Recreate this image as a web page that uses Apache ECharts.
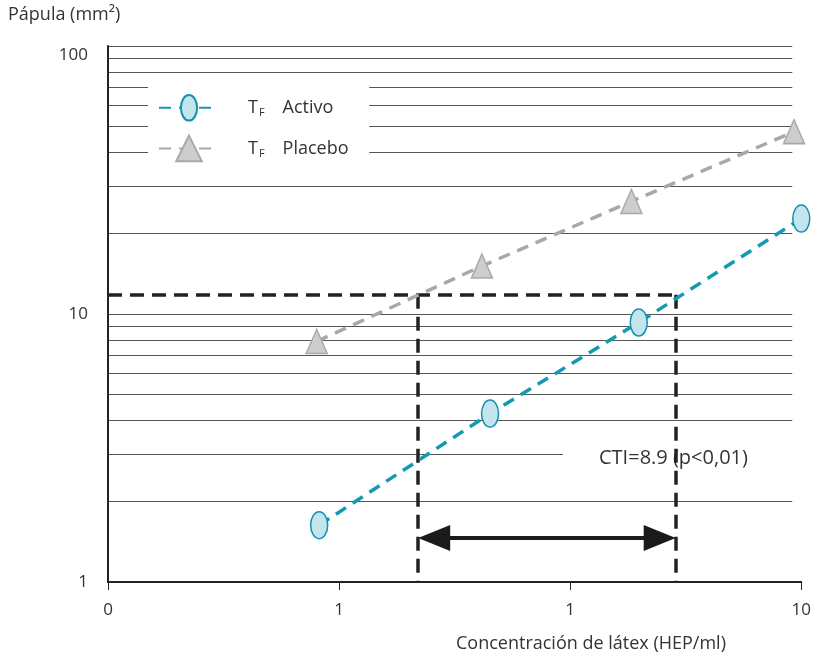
<!DOCTYPE html>
<html>
<head>
<meta charset="utf-8">
<style>
html, body { margin: 0; padding: 0; background: #fff; }
#main { width: 814px; height: 660px; }
</style>
<script src="https://cdn.jsdelivr.net/npm/echarts@6/dist/echarts.min.js"></script>
</head>
<body>
<div id="main"></div>
<script>
// tick labels as printed on the figure
var xTickValues = [0.01, 0.1, 1, 10];
var xTickLabels = ['0', '1', '1', '10'];
var yTickValues = [1, 10, 100];
var yTickLabels = ['1', '10', '100'];

// T_F Activo
var activoX = [0.082, 0.45, 1.98, 10];
var activoY = [1.63, 4.25, 9.3, 22.7];
// T_F Placebo
var placeboX = [0.08, 0.415, 1.84, 9.3];
var placeboY = [7.9, 15.1, 26.3, 47.9];

// horizontal log grid lines
var gridValues = [2, 3, 4, 5, 6, 7, 8, 9, 10, 20, 30, 40, 50, 60, 70, 80, 90, 100];

// cut-off construction
var cutY = 11.8;
var cutX = [0.22, 2.86];
var arrowY = 1.46;

var myChart = echarts.init(document.getElementById('main'));

function idxOf(list, v) {
	for (var i = 0; i < list.length; i++) {
		if (Math.abs(Math.log10(list[i]) - Math.log10(v)) < 1e-6) return i;
	}
	return -1;
}

// grid line segments (gap behind the legend, short line at 3)
var gridSegs = [];
gridValues.forEach(function (v) {
	if (v >= 40 && v <= 70) {
		gridSegs.push([{ coord: [0.0101, v] }, { coord: [0.0149, v] }]);
		gridSegs.push([{ coord: [0.135, v] }, { coord: [9.14, v] }]);
	} else if (v === 3) {
		gridSegs.push([{ coord: [0.0101, v] }, { coord: [0.93, v] }]);
	} else {
		gridSegs.push([{ coord: [0.0101, v] }, { coord: [9.14, v] }]);
	}
});

// arrow heads are centred on the end points: pull them in by half a head
var headShift = Math.pow(10, 16 / 232);

// upright ellipse inside a square box (the two moves fix the box)
var ellipse = 'path://M0,0 M100,100 M50,0 C67.4,0 81.5,22.4 81.5,50 C81.5,77.6 67.4,100 50,100 C32.6,100 18.5,77.6 18.5,50 C18.5,22.4 32.6,0 50,0 Z';
var font = '"Open Sans", "Noto Sans", sans-serif';

var option = {
	animation: false,
	textStyle: { fontFamily: font },
	grid: { left: 108, right: 10, top: 46, bottom: 78 },
	legend: {
		orient: 'vertical',
		left: 153,
		top: 89,
		itemWidth: 60,
		itemHeight: 32,
		itemGap: 13,
		data: ['Activo', 'Placebo'],
		formatter: function (name) {
			return '{t|T}{s|F}{g|}' + name;
		},
		textStyle: {
			color: '#333',
			fontSize: 18,
			padding: [0, 0, 0, 24],
			rich: {
				t: { fontSize: 18, color: '#333' },
				s: { fontSize: 11, color: '#333', verticalAlign: 'bottom', padding: [11, 0, 0, 1] },
				g: { width: 18 }
			}
		}
	},
	xAxis: {
		type: 'log',
		logBase: 10,
		min: 0.01,
		max: 10,
		axisLine: { lineStyle: { color: '#222', width: 2 } },
		axisTick: { show: true, length: 8, lineStyle: { color: '#222', width: 1 } },
		axisLabel: {
			color: '#333',
			fontSize: 17,
			margin: 20,
			formatter: function (v) {
				var i = idxOf(xTickValues, v);
				return i < 0 ? '' : xTickLabels[i];
			}
		},
		splitLine: { show: false }
	},
	yAxis: {
		type: 'log',
		logBase: 10,
		min: 1,
		max: 100,
		axisLine: { show: true, lineStyle: { color: '#222', width: 2 } },
		axisTick: { show: false },
		axisLabel: {
			color: '#333',
			fontSize: 17,
			margin: 20,
			formatter: function (v) {
				var i = idxOf(yTickValues, v);
				if (i < 0) return '';
				return i === yTickValues.length - 1 ? '{top|' + yTickLabels[i] + '}' : yTickLabels[i];
			},
			rich: {
				top: { fontSize: 17, color: '#333', padding: [18, 0, 0, 0] }
			}
		},
		splitLine: { show: false }
	},
	graphic: [
		{ type: 'text', left: 8, top: 6, style: { text: 'Pápula (mm²)', fill: '#333', font: '18px ' + font } },
		{ type: 'text', left: 456, top: 635, style: { text: 'Concentración de látex (HEP/ml)', fill: '#333', font: '18px ' + font } },
		{ type: 'text', left: 599, top: 448, style: { text: 'CTI=8.9 (p<0,01)', fill: '#333', font: '20px ' + font } }
	],
	series: [
		{
			name: 'grid',
			type: 'line',
			data: [],
			silent: true,
			z: 1,
			markLine: {
				silent: true,
				symbol: ['none', 'none'],
				label: { show: false },
				lineStyle: { color: '#555', width: 1.2, type: 'solid' },
				data: gridSegs
			}
		},
		{
			name: 'cut',
			type: 'line',
			data: [],
			silent: true,
			z: 3,
			markLine: {
				silent: true,
				symbol: ['none', 'none'],
				label: { show: false },
				lineStyle: { color: '#222', width: 3.5, type: [14, 8] },
				data: [
					[{ coord: [0.01, cutY] }, { coord: [cutX[1], cutY] }],
					[{ coord: [cutX[0], cutY] }, { coord: [cutX[0], 1] }],
					[{ coord: [cutX[1], cutY] }, { coord: [cutX[1], 1] }]
				]
			}
		},
		{
			name: 'arrow',
			type: 'line',
			data: [],
			silent: true,
			z: 4,
			markLine: {
				silent: true,
				symbol: ['triangle', 'triangle'],
				symbolSize: [26, 32],
				label: { show: false },
				lineStyle: { color: '#1a1a1a', width: 4, type: 'solid' },
				itemStyle: { color: '#1a1a1a' },
				data: [
					[{ coord: [cutX[0] * headShift, arrowY] }, { coord: [cutX[1] / headShift, arrowY] }]
				]
			}
		},
		{
			name: 'Placebo',
			type: 'line',
			z: 5,
			data: placeboX.map(function (x, i) { return [x, placeboY[i]]; }),
			symbol: 'triangle',
			symbolSize: [21, 24],
			itemStyle: { color: '#cdcdcd', borderColor: '#a9a9a9', borderWidth: 1.5 },
			lineStyle: { color: '#a8a8a8', width: 3.5, type: [12, 8] }
		},
		{
			name: 'Activo',
			type: 'line',
			z: 6,
			data: activoX.map(function (x, i) { return [x, activoY[i]]; }),
			symbol: ellipse,
			symbolSize: 27,
			itemStyle: { color: '#c4e4ee', borderColor: '#1193ad', borderWidth: 1.5 },
			lineStyle: { color: '#1399b1', width: 3.5, type: [12, 8] }
		}
	]
};
myChart.setOption(option);
window.addEventListener('resize', function () {
	myChart.resize();
});
</script>
</body>
</html>
